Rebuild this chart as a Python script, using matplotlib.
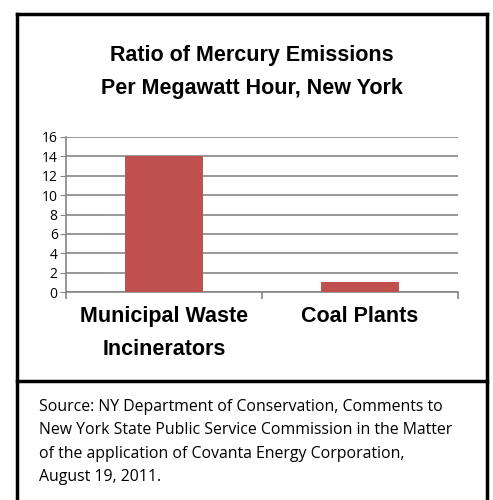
import numpy as np
import matplotlib.pyplot as plt
from matplotlib.lines import Line2D

# Data
categories = ['Municipal Waste\nIncinerators', 'Coal Plants']
ratios = [14, 1]
y_ticks = [0, 2, 4, 6, 8, 10, 12, 14, 16]

source_lines = ["Source: NY Department of Conservation, Comments to",
                "New York State Public Service Commission in the Matter",
                "of the application of Covanta Energy Corporation,",
                "August 19, 2011."]

W, H = 493, 500
fig = plt.figure(figsize=(W / 100, H / 100), dpi=100)
plt.rcParams['font.family'] = ['Open Sans', 'DejaVu Sans']
bold_font = ['Liberation Sans', 'DejaVu Sans']

ax = fig.add_axes([66 / W, 1 - 292 / H, (458 - 66) / W, (292 - 137) / H])
x = np.arange(len(categories))
ax.bar(x, ratios, width=0.4, color='#C0504D', zorder=3)

ax.set_xlim(-0.5, len(categories) - 0.5)
ax.set_ylim(0, 16)
ax.set_yticks(y_ticks)
ax.yaxis.grid(True, color='#868686', linewidth=1.2, zorder=0)
ax.tick_params(axis='y', labelsize=10, length=4, color='#868686', pad=2)

ax.set_xticks(x)
ax.set_xticklabels(categories, fontsize=15.5, fontweight='bold', family=bold_font,
                   linespacing=1.75)
ax.tick_params(axis='x', length=0, pad=10)
ax.set_xticks(np.arange(-0.5, len(categories)), minor=True)
ax.tick_params(axis='x', which='minor', length=5, color='#868686', width=1.2)

for s in ['top', 'right']:
    ax.spines[s].set_visible(False)
for s in ['left', 'bottom']:
    ax.spines[s].set_color('#868686')
    ax.spines[s].set_linewidth(1.2)

# Title
cx = 0.5 * (17 + 487) / W
fig.text(cx, 1 - 55 / H, 'Ratio of Mercury Emissions', ha='center', va='center',
         fontsize=15.5, fontweight='bold', family=bold_font)
fig.text(cx, 1 - 89 / H, 'Per Megawatt Hour, New York', ha='center', va='center',
         fontsize=15.5, fontweight='bold', family=bold_font)

# Source note
for i, line in enumerate(source_lines):
    fig.text(39 / W, 1 - (407 + 23.4 * i) / H, line, ha='left', va='center',
             fontsize=11.4)

# Outer frame and divider
lw = 2.5
for xs, ys in [([17, 17], [14, 500]), ([487, 487], [14, 500]),
               ([17, 487], [14, 14]), ([17, 487], [381, 381])]:
    fig.add_artist(Line2D([v / W for v in xs], [1 - v / H for v in ys],
                          color='black', linewidth=lw))

fig.savefig('out.png', dpi=100)
